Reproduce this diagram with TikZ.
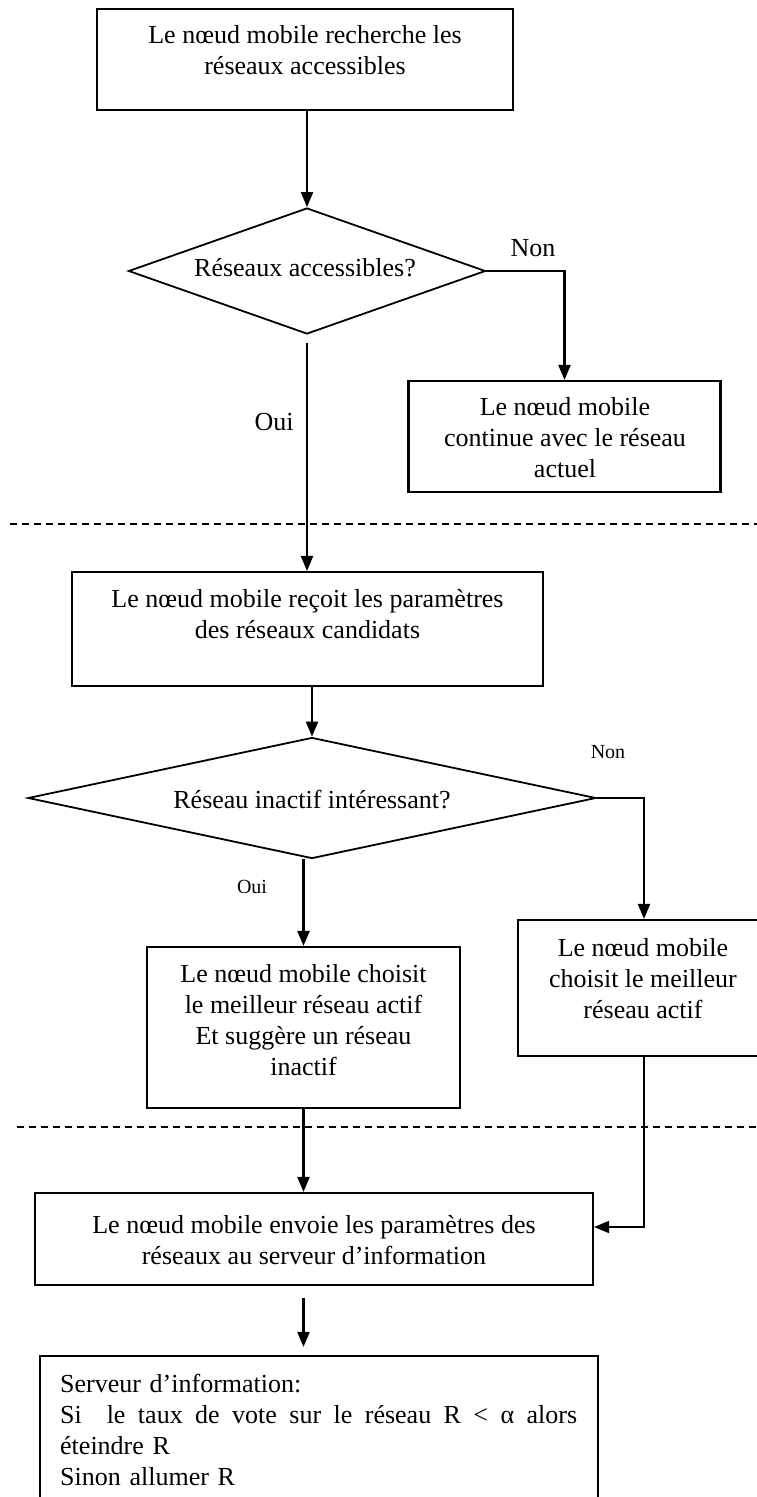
\documentclass[tikz,border=0pt]{standalone}
\usepackage{fontspec}
\setmainfont{Liberation Serif}
\usetikzlibrary{arrows.meta,shapes.geometric}
\newcommand{\bigsz}{\fontsize{26}{31}\selectfont}
\newcommand{\smallsz}{\fontsize{20}{24}\selectfont}
\begin{document}
\begin{tikzpicture}[x=1pt,y=-1pt,
 box/.style={draw,line width=2.1pt,inner sep=0pt},
 txt/.style={align=center,font=\bigsz,inner sep=0pt},
 lab/.style={font=\bigsz,inner sep=0pt},
 slab/.style={font=\smallsz,inner sep=0pt},
 dia/.style={draw,diamond,line width=1.8pt,inner sep=0pt},
 arr/.style={line width=2.1pt,-{Triangle[length=15pt,width=12pt]}},
 tarr/.style={line width=1.6pt,-{Triangle[length=15pt,width=12pt]}},
 sep/.style={line width=1.8pt,dash pattern=on 7pt off 5pt}]
\useasboundingbox (0,0) rectangle (757,1497);

% boxes and decisions
\node[box,minimum width=416pt,minimum height=101pt] (b1) at (305,59.5) {};
\node[txt] at (305,50) {Le nœud mobile recherche les\\réseaux accessibles};

\node[dia,aspect=2.83,minimum width=357pt,minimum height=126pt] (d1) at (307,271) {};
\node[txt] at (305,268) {Réseaux accessibles?};

\node[box,minimum width=312pt,minimum height=111pt] (c) at (564.5,436.5) {};
\node[txt] at (565,438) {Le nœud mobile\\continue avec le réseau\\actuel};

\node[box,minimum width=471pt,minimum height=114pt] (r) at (307.5,629) {};
\node[txt] at (307.5,614) {Le nœud mobile reçoit les paramètres\\des réseaux candidats};

\node[dia,aspect=4.69,minimum width=568pt,minimum height=121pt] (d2) at (312,798) {};
\node[txt] at (312,800) {Réseau inactif intéressant?};

\node[box,minimum width=313pt,minimum height=161pt] (m) at (303.5,1027.5) {};
\node[txt] at (303.5,1020.5) {Le nœud mobile choisit\\le meilleur réseau actif\\Et suggère un réseau\\inactif};

\node[box,minimum width=252pt,minimum height=136pt] (rt) at (644,988) {};
\node[txt] at (643,979) {Le nœud mobile\\choisit le meilleur\\réseau actif};

\node[box,minimum width=558pt,minimum height=92pt] (e) at (314,1239) {};
\node[txt] at (314,1240) {Le nœud mobile envoie les paramètres des\\réseaux au serveur d’information};

\node[box,minimum width=558pt,minimum height=170pt] (s) at (319,1441) {};
\node[font=\bigsz,inner sep=0pt,anchor=north west,text width=517pt,align=left] at (60,1374)
 {Serveur d’information:\\
  \makebox[517pt][l]{Si\ \hfill\ \hfill le\ \hfill taux\ \hfill de\ \hfill vote\ \hfill sur\ \hfill le\ \hfill réseau\ \hfill R\ \hfill <\ \hfill α\ \hfill alors}\\
  éteindre R\\
  Sinon allumer R};

% labels
\node[lab] at (533,248) {Non};
\node[lab] at (274,422) {Oui};
\node[slab] at (608,752) {Non};
\node[slab] at (252,887) {Oui};

% separators
\draw[sep] (10,524) -- (757,524);
\draw[sep] (17,1127) -- (757,1127);

% connectors
\draw[arr] (d1.north |- b1.south) -- (d1.north);
\draw[arr] (d1.east) -| (c.north);
\draw[arr] ([yshift=-8pt]d1.south) -- (d1.south |- r.north);
\draw[arr] (d2.north |- r.south) -- (d2.north);
\draw[arr] (d2.east) -| (rt.north);
\draw[arr] (m.north |- d2.south) -- (m.north);
\draw[arr] (m.south) -- (m.south |- e.north);
\draw[tarr] (rt.south) |- ([yshift=12pt]e.east);
\draw[arr] ([yshift=-12pt]e.south -| m.south) -- ([yshift=8pt]s.north -| m.south);
\end{tikzpicture}
\end{document}
